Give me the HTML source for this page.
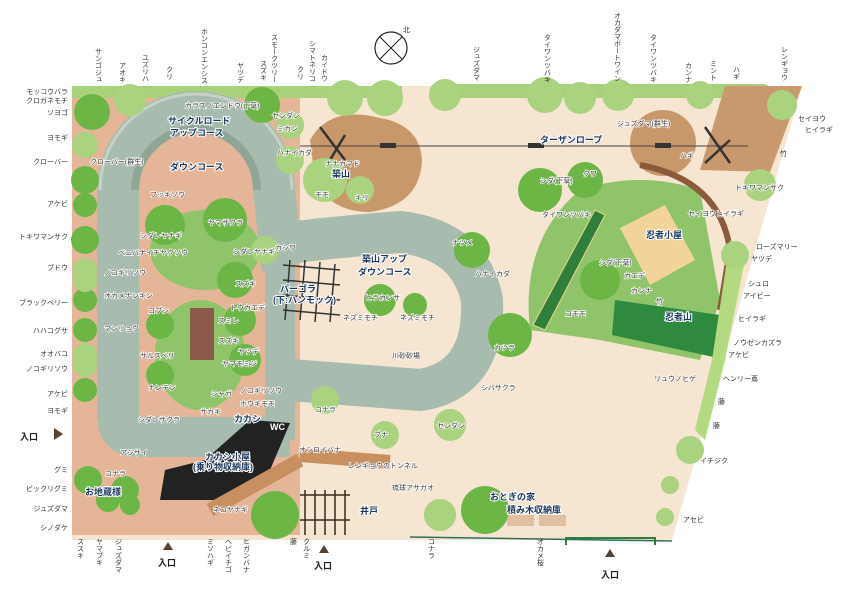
<!DOCTYPE html>
<html><head><meta charset="utf-8">
<style>
html,body{margin:0;padding:0;background:#fff;}
svg{display:block;font-family:"Liberation Sans","Noto Sans CJK JP",sans-serif;}
.l{font-size:7px;fill:#333;}
.b{font-size:9px;font-weight:bold;fill:#1d3a5c;stroke:#fff;stroke-width:2;paint-order:stroke;}
.w{font-size:7px;fill:#333;stroke:#fff;stroke-width:1.5;paint-order:stroke;}
.v{font-size:7px;fill:#333;writing-mode:tb;}
</style></head><body>
<svg width="850" height="602" viewBox="0 0 850 602">
<polygon points="72,86 802,86 672,540 72,540" fill="#f5e5d1"/>
<polygon points="72,86 300,86 300,535 72,535" fill="#e4b597"/>
<rect x="72" y="86" width="330" height="12" fill="#a8d27a"/>
<rect x="430" y="84" width="340" height="14" rx="6" fill="#a8d27a"/>
<polygon points="725,86 802,86 770,172 700,170" fill="#c9986c"/>
<path d="M118,420 L118,190 A78,78 0 0 1 274,190 L280,245 Q300,240 400,232 Q470,240 482,300 Q485,380 420,390 L290,380" fill="none" stroke="#a7bcae" stroke-width="42"/>
<path d="M280,250 L280,440" stroke="#a7bcae" stroke-width="30"/>
<path d="M118,420 Q118,437 140,437 L290,437" fill="none" stroke="#a7bcae" stroke-width="40"/>
<path d="M135,190 A61,61 0 0 1 257,190" fill="none" stroke="#8fa596" stroke-width="8"/>
<path d="M100,190 A96,96 0 0 1 292,190" fill="none" stroke="#c6d2c6" stroke-width="3"/>
<ellipse cx="205" cy="250" rx="55" ry="40" fill="#8fc46a"/>
<ellipse cx="200" cy="355" rx="45" ry="55" fill="#8fc46a"/>
<rect x="190" y="308" width="24" height="52" fill="#8b5a4a"/>
<path d="M310,140 Q330,105 380,118 Q420,125 422,160 Q420,205 370,212 Q330,212 315,180 Z" fill="#c8976a"/>
<circle cx="663" cy="143" r="33" fill="#c8976a"/>
<line x1="300" y1="146" x2="748" y2="146" stroke="#444" stroke-width="1"/>
<rect x="528" y="143" width="16" height="5" fill="#333"/><rect x="655" y="143" width="16" height="5" fill="#333"/><rect x="380" y="143" width="16" height="5" fill="#333"/>
<path d="M320,127 L345,160 M330,160 L345,135" stroke="#333" stroke-width="2.5"/>
<path d="M705,127 L730,163 M705,163 L730,140" stroke="#333" stroke-width="2.5"/>
<path d="M530,330 Q520,240 580,190 Q640,170 700,190 L720,300 L700,360 L600,340 Z" fill="#8fc46a"/>
<polygon points="533,325 595,210 605,215 545,330" fill="#2f7f3a" stroke="#e8d78a" stroke-width="1"/>
<polygon points="620,228 665,205 695,260 650,285" fill="#f2d49a"/>
<polygon points="615,300 720,315 718,358 612,335" fill="#2f8a3f"/>
<path d="M640,165 Q720,180 730,250 L720,310" fill="none" stroke="#8a5a3a" stroke-width="6"/>
<path d="M730,240 L745,260 L725,360 L705,440 L695,430 L712,360 Z" fill="#b3da80"/>
<polygon points="165,470 205,460 250,420 290,423 270,470 220,500 160,500" fill="#222"/>
<path d="M300,455 L390,462 M210,510 L300,460" stroke="#c89060" stroke-width="14" fill="none"/>
<g stroke="#3a2a1a" stroke-width="1.5"><path d="M300,495 L350,495 M300,520 L350,520 M305,490 V535 M315,490 V535 M325,490 V535 M335,490 V535 M345,490 V535"/></g>
<g stroke="#333" stroke-width="1.5"><path d="M283,265 L340,270 M283,280 L340,285 M283,295 L340,300 M283,310 L340,315 M290,260 L285,320 M305,260 L300,320 M320,262 L315,322 M335,264 L330,322"/></g>
<line x1="410" y1="537" x2="672" y2="541" stroke="#2e6e5a" stroke-width="1.5"/>
<path d="M566,545 V538 H655 V545" stroke="#2e7d3a" stroke-width="2" fill="none"/>
<rect x="507" y="515" width="27" height="11" fill="#e0c0a0"/><rect x="539" y="515" width="27" height="11" fill="#e0c0a0"/>
<g fill="#6cb646">
<circle cx="92" cy="112" r="18"/><circle cx="85" cy="180" r="14"/><circle cx="85" cy="205" r="12"/><circle cx="85" cy="240" r="14"/><circle cx="85" cy="300" r="12"/><circle cx="85" cy="330" r="12"/><circle cx="85" cy="390" r="12"/><circle cx="88" cy="480" r="14"/><circle cx="125" cy="490" r="14"/><circle cx="108" cy="500" r="12"/>
<circle cx="262" cy="105" r="18"/><circle cx="165" cy="225" r="20"/><circle cx="225" cy="220" r="22"/><circle cx="160" cy="325" r="14"/><circle cx="160" cy="375" r="14"/><circle cx="235" cy="280" r="18"/><circle cx="240" cy="320" r="16"/><circle cx="245" cy="360" r="16"/><circle cx="380" cy="300" r="16"/><circle cx="415" cy="305" r="12"/><circle cx="540" cy="190" r="22"/><circle cx="585" cy="180" r="18"/><circle cx="600" cy="280" r="20"/><circle cx="472" cy="250" r="18"/><circle cx="510" cy="335" r="22"/><circle cx="485" cy="510" r="24"/><circle cx="275" cy="515" r="24"/><circle cx="130" cy="505" r="10"/>
</g>
<g fill="#a9d37f">
<circle cx="130" cy="100" r="16"/><circle cx="85" cy="145" r="13"/><circle cx="85" cy="270" r="12"/><circle cx="85" cy="280" r="12"/><circle cx="85" cy="355" r="12"/><circle cx="85" cy="365" r="12"/><circle cx="290" cy="125" r="14"/><circle cx="290" cy="160" r="14"/><circle cx="345" cy="98" r="18"/><circle cx="385" cy="98" r="18"/><circle cx="325" cy="180" r="22"/><circle cx="360" cy="190" r="14"/><circle cx="445" cy="95" r="16"/><circle cx="545" cy="95" r="18"/><circle cx="618" cy="95" r="16"/><circle cx="580" cy="98" r="16"/><circle cx="700" cy="95" r="14"/><circle cx="782" cy="105" r="15"/><circle cx="760" cy="185" r="16"/><circle cx="735" cy="255" r="14"/><circle cx="325" cy="400" r="14"/><circle cx="385" cy="435" r="14"/><circle cx="450" cy="425" r="16"/><circle cx="440" cy="515" r="16"/><circle cx="690" cy="450" r="14"/><circle cx="670" cy="485" r="9"/><circle cx="665" cy="517" r="9"/><circle cx="265" cy="250" r="14"/>
</g>
<circle cx="391" cy="48" r="16" fill="none" stroke="#222" stroke-width="1.2"/><path d="M380,37 L402,59 M402,37 L380,59" stroke="#222"/>
<text x="403" y="32" class="l">北</text>
<g class="v">
<text x="98" y="48">サンゴジュ</text><text x="122" y="62">アオキ</text><text x="145" y="54">ユズリハ</text><text x="169" y="66">クリ</text><text x="204" y="28">ホンコンエンシス</text><text x="240" y="62">ヤツデ</text><text x="263" y="60">スズキ</text><text x="274" y="34">スモークツリー</text><text x="300" y="66">クリ</text><text x="312" y="40">シマトネリコ</text><text x="324" y="54">カイドウ</text>
<text x="476" y="46">ジュズダマ</text><text x="547" y="34">タイワンツバキ</text><text x="617" y="12">オカダマボートワイン</text><text x="653" y="34">タイワンツバキ</text><text x="688" y="62">カンナ</text><text x="713" y="60">ミント</text><text x="736" y="66">ハギ</text><text x="784" y="46">レンギョウ</text>
<text x="80" y="538">ススキ</text><text x="99" y="538">ヤマブキ</text><text x="118" y="538">ジュズダマ</text><text x="210" y="538">ミソハギ</text><text x="228" y="538">ヘビイチゴ</text><text x="246" y="538">ヒガンバナ</text><text x="293" y="538">藤</text><text x="306" y="538">クルミ</text><text x="431" y="538">コナラ</text><text x="540" y="538">オカメ桜</text>
</g>
<g class="l" text-anchor="end">
<text x="68" y="94">モッコウバラ</text><text x="68" y="103">クロガネモチ</text><text x="68" y="115">ソヨゴ</text><text x="68" y="140">ヨモギ</text><text x="68" y="164">クローバー</text><text x="68" y="206">アケビ</text><text x="68" y="239">トキワマンサク</text><text x="68" y="270">ブドウ</text><text x="68" y="305">ブラックベリー</text><text x="68" y="333">ハハコグサ</text><text x="68" y="356">オオバコ</text><text x="68" y="371">ノコギリソウ</text><text x="68" y="396">アケビ</text><text x="68" y="413">ヨモギ</text><text x="68" y="472">グミ</text><text x="68" y="491">ビックリグミ</text><text x="68" y="511">ジュズダマ</text><text x="68" y="530">シノダケ</text>
</g>
<g class="l">
<text x="798" y="121">セイヨウ</text><text x="805" y="132">ヒイラギ</text><text x="780" y="156">竹</text><text x="756" y="249">ローズマリー</text><text x="751" y="261">ヤツデ</text><text x="748" y="286">シュロ</text><text x="743" y="298">アイビー</text><text x="738" y="321">ヒイラギ</text><text x="733" y="345">ノウゼンカズラ</text><text x="728" y="357">アケビ</text><text x="723" y="381">ヘンリー蔦</text><text x="718" y="404">藤</text><text x="713" y="428">藤</text><text x="700" y="463">イチジク</text><text x="683" y="522">アセビ</text>
</g>
<g class="b">
<text x="168" y="124">サイクルロード</text><text x="170" y="136">アップコース</text><text x="170" y="170">ダウンコース</text><text x="332" y="177">築山</text><text x="540" y="143">ターザンロープ</text><text x="362" y="262">築山アップ</text><text x="358" y="275">ダウンコース</text><text x="280" y="292">パーゴラ</text><text x="273" y="303">(下:ハンモック)</text><text x="646" y="238">忍者小屋</text><text x="665" y="320">忍者山</text><text x="234" y="422">カカシ</text><text x="270" y="430" style="fill:#fff;stroke:none">WC</text><text x="205" y="460">カカシ小屋</text><text x="193" y="470">(乗り物収納庫)</text><text x="85" y="495">お地蔵様</text><text x="360" y="514">井戸</text><text x="490" y="500">おとぎの家</text><text x="507" y="513">積み木収納庫</text>
<text x="20" y="440" style="fill:#222">入口</text><text x="158" y="566" style="fill:#222">入口</text><text x="314" y="569" style="fill:#222">入口</text><text x="601" y="578" style="fill:#222">入口</text>
</g>
<g fill="#5a4030"><polygon points="54,428 54,440 63,434"/><polygon points="163,550 173,550 168,542"/><polygon points="319,553 329,553 324,545"/><polygon points="605,557 615,557 610,549"/></g>
<g class="w">
<text x="185" y="108">カラスノエンドウ(下草)</text><text x="272" y="118">センダン</text><text x="277" y="131">ミカン</text><text x="277" y="155">ハナイカダ</text><text x="325" y="166">ナナカマド</text><text x="315" y="197">モモ</text><text x="355" y="200">キリ</text><text x="90" y="164">クローバー(群生)</text><text x="150" y="197">フッキソウ</text><text x="208" y="225">ヤマザクラ</text><text x="140" y="238">シダレヤナギ</text><text x="118" y="255">ベニバナイチヤクソウ</text><text x="233" y="254">シダレヤナギ</text><text x="275" y="250">カシワ</text><text x="104" y="275">ノコギリソウ</text><text x="104" y="298">オカメナンキン</text><text x="148" y="313">コブシ</text><text x="235" y="286">スズキ</text><text x="230" y="310">トウカエデ</text><text x="218" y="323">スミレ</text><text x="104" y="331">マンリョウ</text><text x="218" y="343">スズキ</text><text x="238" y="354">ヤツデ</text><text x="222" y="366">ヤマモミジ</text><text x="140" y="358">サルスベリ</text><text x="148" y="390">ナンテン</text><text x="211" y="396">シャガ</text><text x="240" y="393">ノコギリソウ</text><text x="240" y="406">ホウキモモ</text><text x="200" y="414">サカキ</text><text x="138" y="422">シダレザクラ</text><text x="120" y="455">アジサイ</text><text x="105" y="476">コナラ</text><text x="365" y="300">ヒラカンサ</text><text x="343" y="320">ネズミモチ</text><text x="400" y="320">ネズミモチ</text><text x="392" y="358">川砂砂場</text><text x="452" y="245">ナツメ</text><text x="475" y="276">ハナイカダ</text><text x="494" y="350">カツラ</text><text x="481" y="390">シバサクラ</text><text x="437" y="428">センダン</text><text x="315" y="412">コナラ</text><text x="374" y="437">ブナ</text><text x="299" y="452">オシロイバナ</text><text x="348" y="468">レンギョウのトンネル</text><text x="392" y="490">琉球アサガオ</text><text x="213" y="512">ネコヤナギ</text>
<text x="617" y="126">ジュズダマ(群生)</text><text x="680" y="158">ハギ</text><text x="540" y="183">シダ(下草)</text><text x="583" y="176">クワ</text><text x="542" y="217">タイワンツバキ</text><text x="688" y="216">セイヨウヒイラギ</text><text x="735" y="190">トキワマンサク</text><text x="599" y="265">シダ(下草)</text><text x="624" y="278">カエデ</text><text x="631" y="293">カンナ</text><text x="565" y="316">コモモ</text><text x="656" y="304">竹</text><text x="654" y="381">リュウノヒゲ</text>
</g>
</svg>
</body></html>
